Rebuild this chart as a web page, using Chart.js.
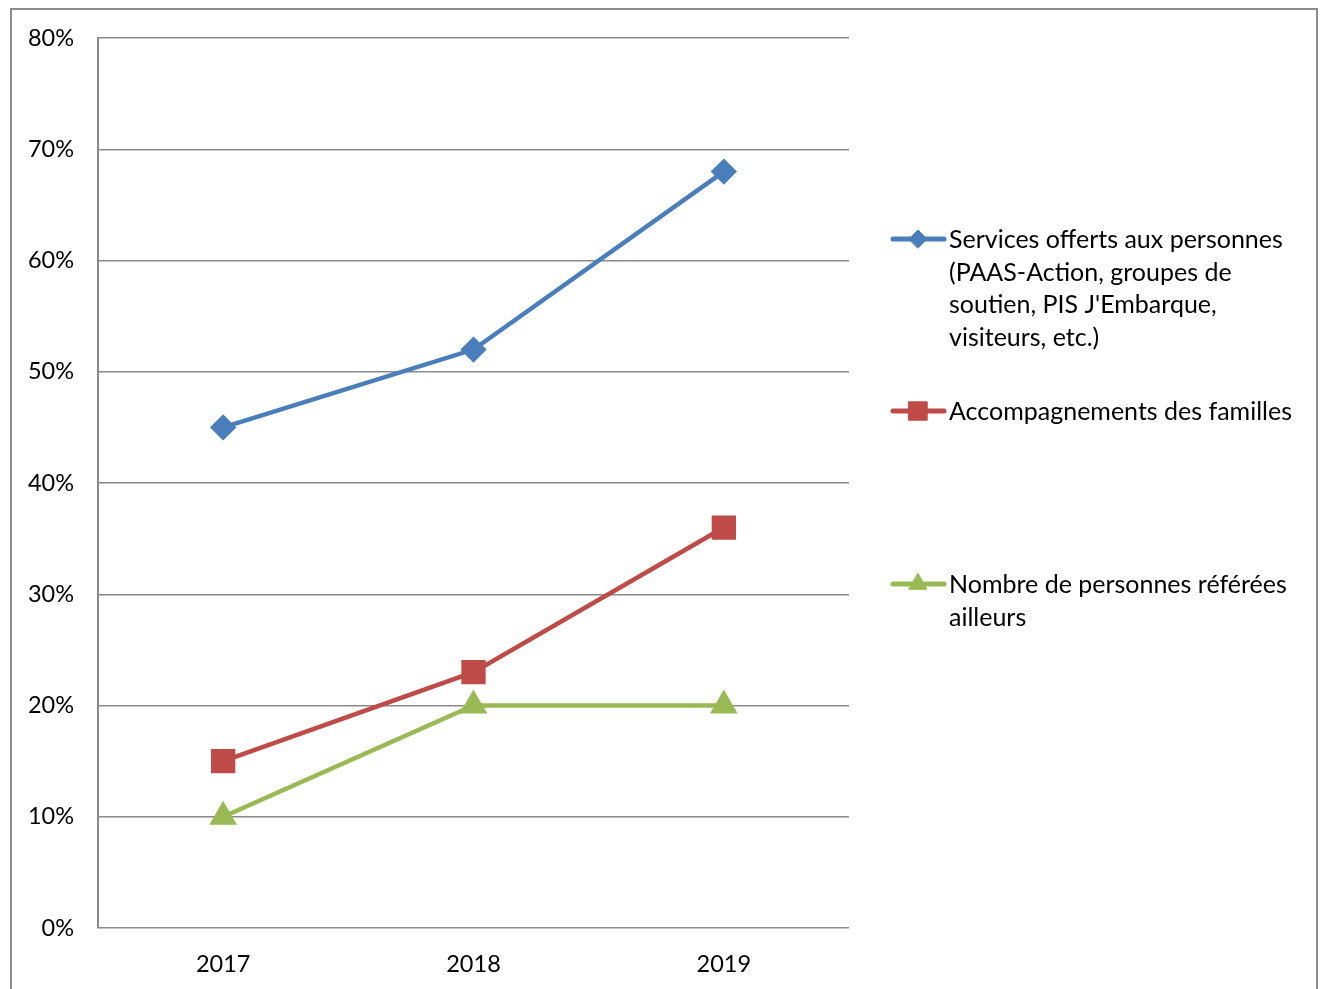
<!DOCTYPE html>
<html>
<head>
<meta charset="utf-8">
<script src="https://cdn.jsdelivr.net/npm/chart.js@4"></script>
<style>
  html, body { margin: 0; padding: 0; background: #fff; }
  #wrap { position: relative; width: 1323px; height: 989px; }
  #frame { position: absolute; left: 10px; top: 8px; width: 1304px; height: 990px;
           border: 2px solid #8c8c8c; border-bottom: none; }
  canvas { position: absolute; left: 0; top: 0; }
</style>
</head>
<body>
<div id="wrap">
  <div id="frame"></div>
  <canvas id="myChart" width="1323" height="989"></canvas>
</div>
<script>
const years = ['2017', '2018', '2019'];

// legend names, split the way they wrap beside the plot
const seriesNames = [
  ['Services offerts aux personnes', '(PAAS-Action, groupes de', 'soutien, PIS J\'Embarque,', 'visiteurs, etc.)'],
  ['Accompagnements des familles'],
  ['Nombre de personnes référées', 'ailleurs']
];

const services = [45, 52, 68];
const accompagnements = [15, 23, 36];
const referees = [10, 20, 20];

const yTicks = [0, 10, 20, 30, 40, 50, 60, 70, 80];

const FONT = 'Lato, "Open Sans", sans-serif';

// legend drawn to the right of the plot, with wrapped text
const sideLegend = {
  id: 'sideLegend',
  afterDraw(chart) {
    const ctx = chart.ctx;
    const rows = [239, 411, 584];
    ctx.save();
    chart.data.datasets.forEach((ds, i) => {
      const y = rows[i];
      ctx.strokeStyle = ds.borderColor;
      ctx.lineWidth = 5;
      ctx.lineCap = 'round';
      ctx.beginPath();
      ctx.moveTo(893, y);
      ctx.lineTo(944, y);
      ctx.stroke();
      ctx.fillStyle = ds.backgroundColor;
      ctx.strokeStyle = ds.borderColor;
      ctx.lineWidth = 1;
      Chart.helpers.drawPoint(ctx, {
        pointStyle: ds.pointStyle,
        radius: ds.legendRadius,
        borderWidth: 1
      }, 918, y);
      ctx.fillStyle = '#000';
      ctx.font = '25px ' + FONT;
      ctx.textAlign = 'left';
      ctx.textBaseline = 'middle';
      seriesNames[i].forEach((line, j) => {
        ctx.fillText(line, 949, y + 1 + j * 32.7);
      });
    });
    ctx.restore();
  }
};

const ctx = document.getElementById('myChart').getContext('2d');
new Chart(ctx, {
  type: 'line',
  data: {
    labels: years,
    datasets: [{
      label: seriesNames[0].join(' '),
      data: services,
      borderColor: '#4a7ebb',
      backgroundColor: '#4a7ebb',
      pointStyle: 'rectRot',
      pointRadius: 10,
      legendRadius: 9,
      borderWidth: 4.5
    }, {
      label: seriesNames[1].join(' '),
      data: accompagnements,
      borderColor: '#be4b48',
      backgroundColor: '#be4b48',
      pointStyle: 'rect',
      pointRadius: 14,
      legendRadius: 13,
      borderWidth: 4.5
    }, {
      label: seriesNames[2].join(' '),
      data: referees,
      borderColor: '#98b954',
      backgroundColor: '#98b954',
      pointStyle: 'triangle',
      pointRadius: 11.5,
      legendRadius: 10.5,
      borderWidth: 4.5
    }]
  },
  options: {
    responsive: false,
    animation: false,
    layout: {
      padding: { left: 10, top: 37, right: 474, bottom: 0 }
    },
    plugins: {
      legend: { display: false },
      tooltip: { enabled: false }
    },
    scales: {
      x: {
        offset: true,
        grid: { display: false },
        border: { display: false },
        ticks: { color: '#000', font: { family: FONT, size: 23.5 }, padding: 14 },
        afterFit(scale) { scale.height = 61; }
      },
      y: {
        min: 0,
        max: 80,
        afterBuildTicks(scale) { scale.ticks = yTicks.map(v => ({ value: v })); },
        grid: { color: '#8a8a8a', lineWidth: 1.5, drawTicks: false },
        border: { display: true, color: '#8a8a8a', width: 2 },
        ticks: {
          color: '#000',
          font: { family: FONT, size: 23.5 },
          padding: 24,
          callback: v => v + '%'
        },
        afterFit(scale) { scale.width = 88; }
      }
    }
  },
  plugins: [sideLegend]
});
</script>
</body>
</html>
